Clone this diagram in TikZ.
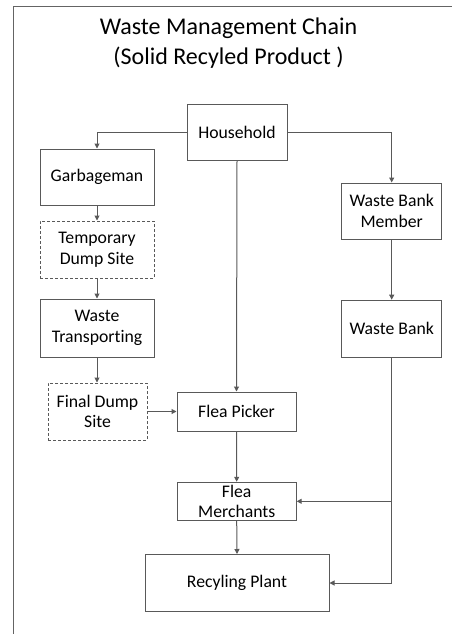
\documentclass[tikz,border=0pt]{standalone}
\usepackage{fontspec}
\setmainfont[Ligatures={NoCommon}, RawFeature={-liga;-dlig}]{Carlito}
\usetikzlibrary{arrows.meta}
\definecolor{lineg}{RGB}{89,89,89}
\definecolor{frameg}{RGB}{100,100,100}
\tikzset{
  box/.style={draw=lineg, line width=1pt, rectangle, inner sep=0pt, align=center,
    font=\fontsize{17.7}{20.7}\selectfont, text=black},
  dbox/.style={box, dashed, dash pattern=on 3pt off 2pt},
  arr/.style={draw=lineg, line width=1pt, -{Triangle[length=5pt,width=5pt]}},
  ttl/.style={anchor=base, font=\fontsize{24}{29}\selectfont, inner sep=0pt}
}
\begin{document}
\begin{tikzpicture}[x=1pt,y=-1pt]
\useasboundingbox (0,0) rectangle (451,634);
\draw[draw=frameg, line width=1pt] (452,7) -- (13,7) -- (13,635);
\node[ttl] (title1) at (228.5,35) {Waste Management Chain};
\node[ttl] (title2) at (228.5,64) {(Solid Recyled Product )};

\node[box, minimum width=100pt, minimum height=56pt] (house) at (237,132) {Household};
\node[box, minimum width=114pt, minimum height=56pt] (garb) at (97,177) {Garbageman};
\node[dbox, minimum width=114pt, minimum height=57pt] (temp) at (97,249.5) {Temporary\\Dump Site};
\node[box, minimum width=114pt, minimum height=58pt] (trans) at (97,328) {Waste\\Transporting};
\node[dbox, minimum width=99pt, minimum height=57pt] (final) at (97.5,411.5) {Final Dump\\Site};
\node[box, minimum width=119pt, minimum height=39pt] (picker) at (236.5,411.5) {Flea Picker};
\node[box, minimum width=100pt, minimum height=56pt] (wbm) at (391.7,211) {Waste Bank\\Member};
\node[box, minimum width=100pt, minimum height=57pt] (wb) at (391.7,328.7) {Waste Bank};
\node[box, minimum width=119pt, minimum height=38pt] (merch) at (236.7,501.3) {Flea\\Merchants};
\node[box, minimum width=184pt, minimum height=57pt] (plant) at (237,583) {Recyling Plant};

\draw[arr] (house.west) -| (garb.north);
\draw[arr] (house.east) -| (wbm.north);
\draw[arr] (house.south) -- (picker.north);
\draw[arr] (garb.south) -- (temp.north);
\draw[arr] (temp.south) -- (trans.north);
\draw[arr] (trans.south) -- (trans.south |- final.north);
\draw[arr] (final.east) -- (picker.west);
\draw[arr] (wbm.south) -- (wb.north);
\draw[arr] (wb.south) |- (plant.east);
\coordinate (branch) at (wb.south |- merch.east);
\draw[arr] (branch) -- (merch.east);
\draw[arr] (picker.south) -- (merch.north);
\draw[arr] (merch.south) -- (plant.north);
\end{tikzpicture}
\end{document}
